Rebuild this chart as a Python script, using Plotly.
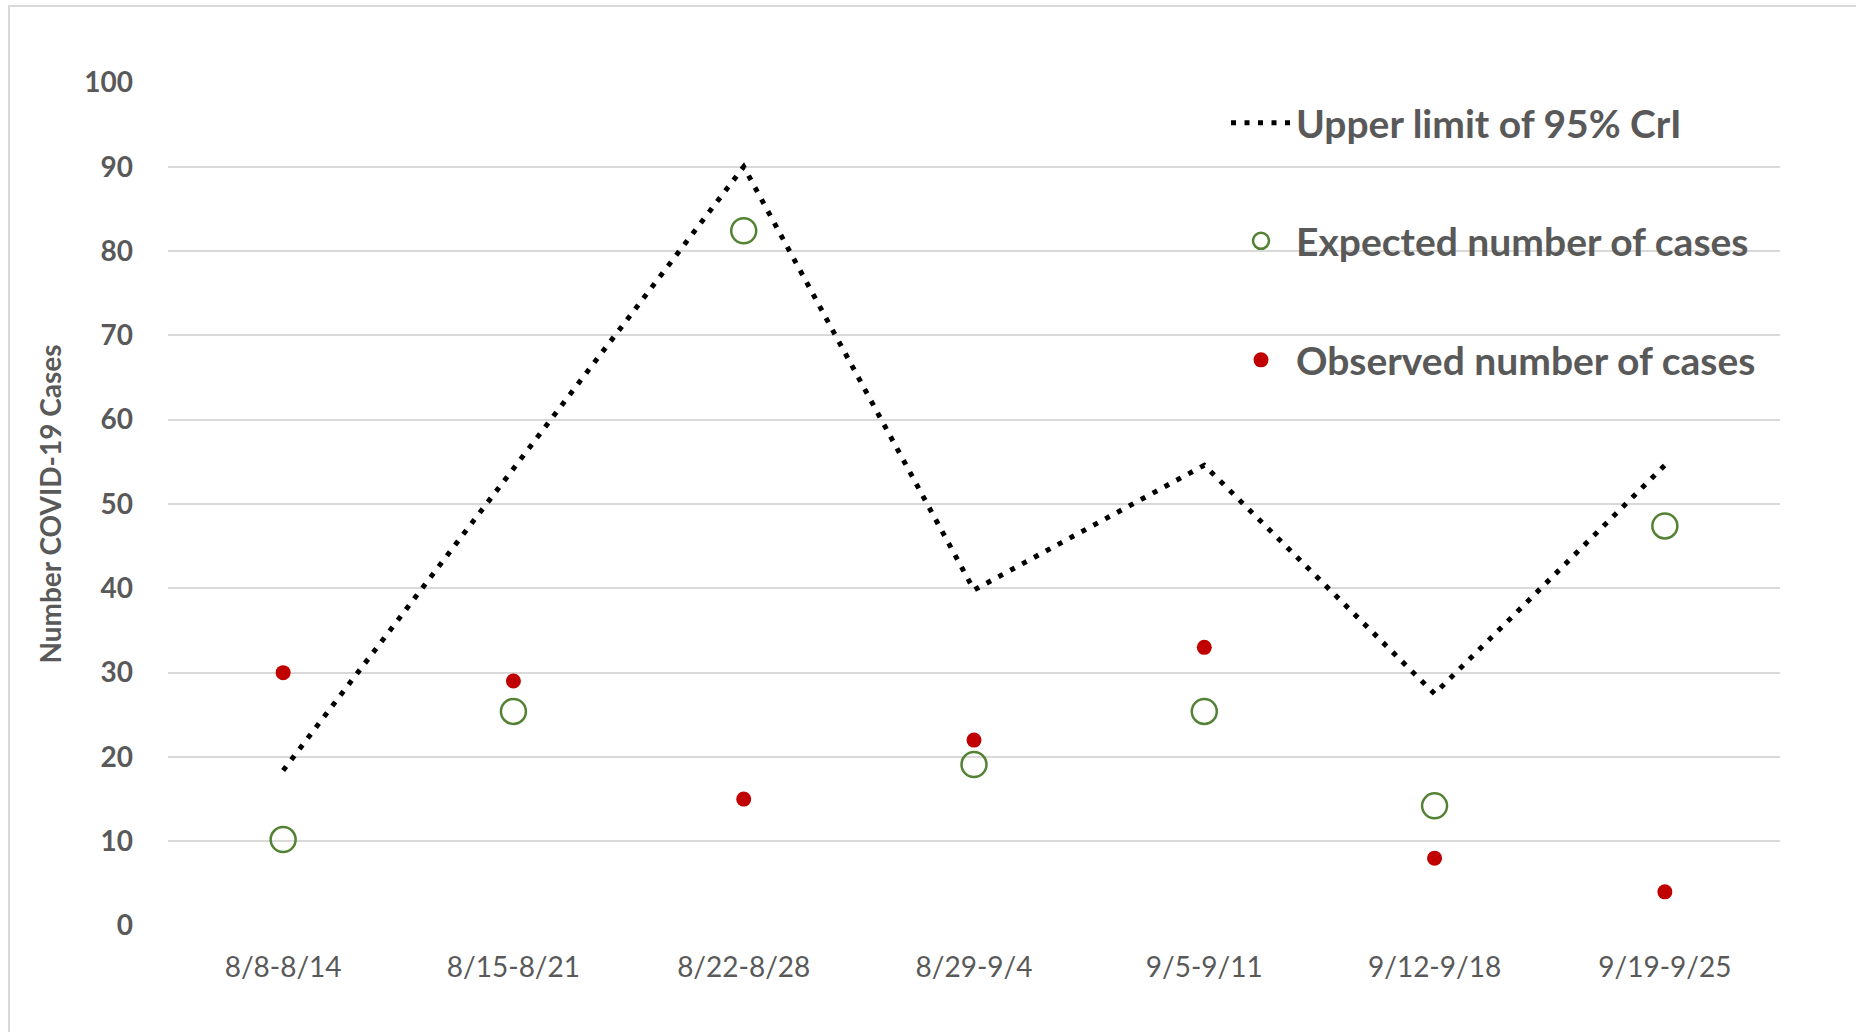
import plotly.graph_objects as go

weeks = ["8/8-8/14", "8/15-8/21", "8/22-8/28", "8/29-9/4", "9/5-9/11", "9/12-9/18", "9/19-9/25"]
upper_limit = [18.4, 54.3, 90.0, 39.8, 54.6, 27.5, 54.6]
expected = [10.2, 25.4, 82.4, 19.1, 25.4, 14.2, 47.4]
observed = [30, 29, 15, 22, 33, 8, 4]
y_ticks = [0, 10, 20, 30, 40, 50, 60, 70, 80, 90, 100]

TXT = "#595959"
GRID = "#d9d9d9"
FONT = "Lato, Arial, sans-serif"

fig = go.Figure()
fig.add_trace(go.Scatter(
    x=weeks, y=upper_limit, mode="lines", name="Upper limit of 95% CrI",
    line=dict(color="black", width=5, dash="5px,8.5px"), legend="legend", showlegend=True))
fig.add_trace(go.Scatter(
    x=weeks, y=expected, mode="markers", name="Expected number of cases",
    marker=dict(symbol="circle-open", size=25, color="#548235", line=dict(width=2.5, color="#548235")),
    legend="legend2", showlegend=True))
fig.add_trace(go.Scatter(
    x=weeks, y=observed, mode="markers", name="Observed number of cases",
    marker=dict(symbol="circle", size=15, color="#c00000"), legend="legend3", showlegend=True))

W, H = 1856, 1032
L, R, T, B = 168, 76, 82, 106
pw, ph = W - L - R, H - T - B

def px(x):
    return (x - L) / pw

def py(y):
    return (H - B - y) / ph

leg_font = dict(family=FONT, size=39, color=TXT, weight="bold")
common = dict(font=leg_font, bgcolor="rgba(0,0,0,0)", xanchor="left", yanchor="middle", itemwidth=60)

fig.update_layout(
    width=W, height=H,
    showlegend=True,
    margin=dict(l=L, r=R, t=T, b=B, autoexpand=False),
    paper_bgcolor="white", plot_bgcolor="white",
    font=dict(family=FONT, color=TXT),
    legend=dict(x=px(1226), y=py(123), **common),
    legend2=dict(x=px(1226), y=py(241), **common),
    legend3=dict(x=px(1226), y=py(360), **common),
    xaxis=dict(
        type="category", range=[-0.5, 6.5], showgrid=False, zeroline=False, showline=False,
        tickfont=dict(family=FONT, size=28, color=TXT), ticks="", ticklabelstandoff=22,
        fixedrange=True),
    yaxis=dict(
        range=[-0.05, 100.05], tickvals=y_ticks, showgrid=True, gridcolor=GRID, gridwidth=2,
        zeroline=False, showline=False,
        tickfont=dict(family=FONT, size=28, color=TXT, weight="bold"), ticks="",
        ticklabelstandoff=34,
        title=dict(text="Number COVID-19 Cases", font=dict(family=FONT, size=28, color=TXT, weight="bold"),
                   standoff=14),
        fixedrange=True),
    shapes=[dict(type="rect", xref="paper", yref="paper",
                 x0=px(9), x1=px(W + 20), y0=py(6), y1=py(H + 20),
                 line=dict(color=GRID, width=2), layer="below")],
)

fig.write_html("out.html", config={"displayModeBar": False},
               post_script="document.body.style.margin='0px';document.body.style.overflow='hidden';")
